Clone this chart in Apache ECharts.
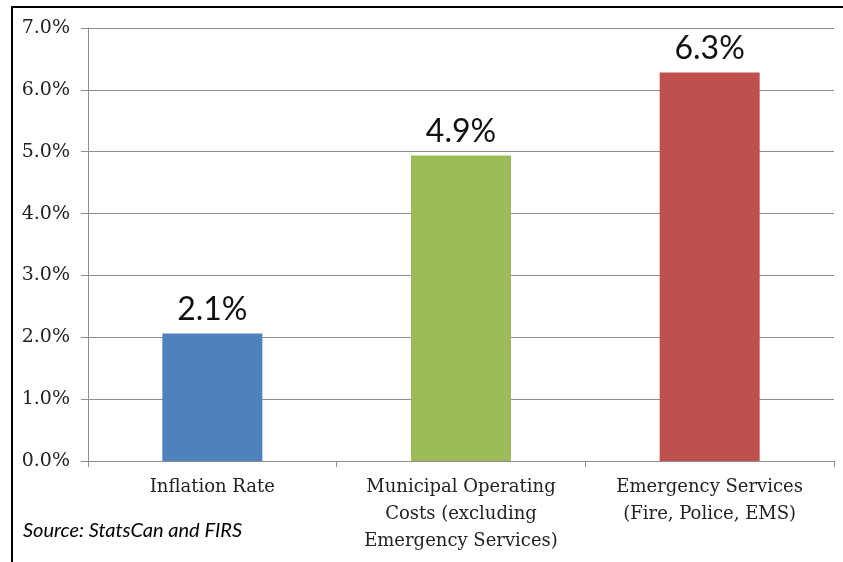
<!DOCTYPE html>
<html>
<head>
<meta charset="utf-8">
<script src="https://cdn.jsdelivr.net/npm/echarts@6/dist/echarts.min.js"></script>
<style>
  html, body { margin: 0; padding: 0; background: #fff; }
  #main { width: 843px; height: 562px; }
</style>
</head>
<body>
<div id="main"></div>
<script>
// categories and values (percent)
var categories = [
  'Inflation Rate',
  'Municipal Operating\nCosts (excluding\nEmergency Services)',
  'Emergency Services\n(Fire, Police, EMS)'
];
var values = [2.06, 4.94, 6.28];
var barColors = ['#4F81BD', '#9BBB59', '#C0504D'];
var yTicks = { min: 0, max: 7, interval: 1 };

var myChart = echarts.init(document.getElementById('main'));

myChart.setOption({
  animation: false,
  backgroundColor: '#fff',
  grid: { left: 88, right: 9, top: 28, bottom: 101 },
  xAxis: {
    type: 'category',
    data: categories,
    axisLine: { lineStyle: { color: '#8e8e8e', width: 1 } },
    axisTick: { show: true, length: 6, lineStyle: { color: '#8e8e8e' } },
    axisLabel: {
      interval: 0,
      margin: 13,
      color: '#222',
      fontFamily: 'DejaVu Serif',
      fontSize: 18,
      lineHeight: 27,
      align: 'center'
    }
  },
  yAxis: {
    type: 'value',
    min: yTicks.min,
    max: yTicks.max,
    interval: yTicks.interval,
    axisLine: { show: true, lineStyle: { color: '#8e8e8e', width: 1 } },
    axisTick: { show: true, length: 7, lineStyle: { color: '#8e8e8e' } },
    splitLine: { lineStyle: { color: '#8e8e8e', width: 1 } },
    axisLabel: {
      margin: 18,
      color: '#222',
      fontFamily: 'DejaVu Serif',
      fontSize: 19,
      formatter: function (v) { return v.toFixed(1) + '%'; }
    }
  },
  series: [{
    type: 'bar',
    barWidth: 100,
    data: values.map(function (v, i) {
      return { value: v, itemStyle: { color: barColors[i] } };
    }),
    label: {
      show: true,
      position: 'top',
      distance: 8,
      color: '#111',
      fontFamily: 'Lato',
      fontSize: 32,
      formatter: function (p) { return p.value.toFixed(1) + '%'; }
    }
  }],
  graphic: [
    { type: 'line', shape: { x1: 12, y1: 6, x2: 12, y2: 562 }, style: { stroke: '#000', lineWidth: 2 } },
    { type: 'line', shape: { x1: 11, y1: 7, x2: 843, y2: 7 }, style: { stroke: '#000', lineWidth: 2 } },
    {
      type: 'text', left: 23, top: 521,
      style: { text: 'Source: StatsCan and FIRS', fontFamily: 'Lato', fontStyle: 'italic', fontSize: 20, fill: '#000' }
    }
  ]
});
</script>
</body>
</html>
